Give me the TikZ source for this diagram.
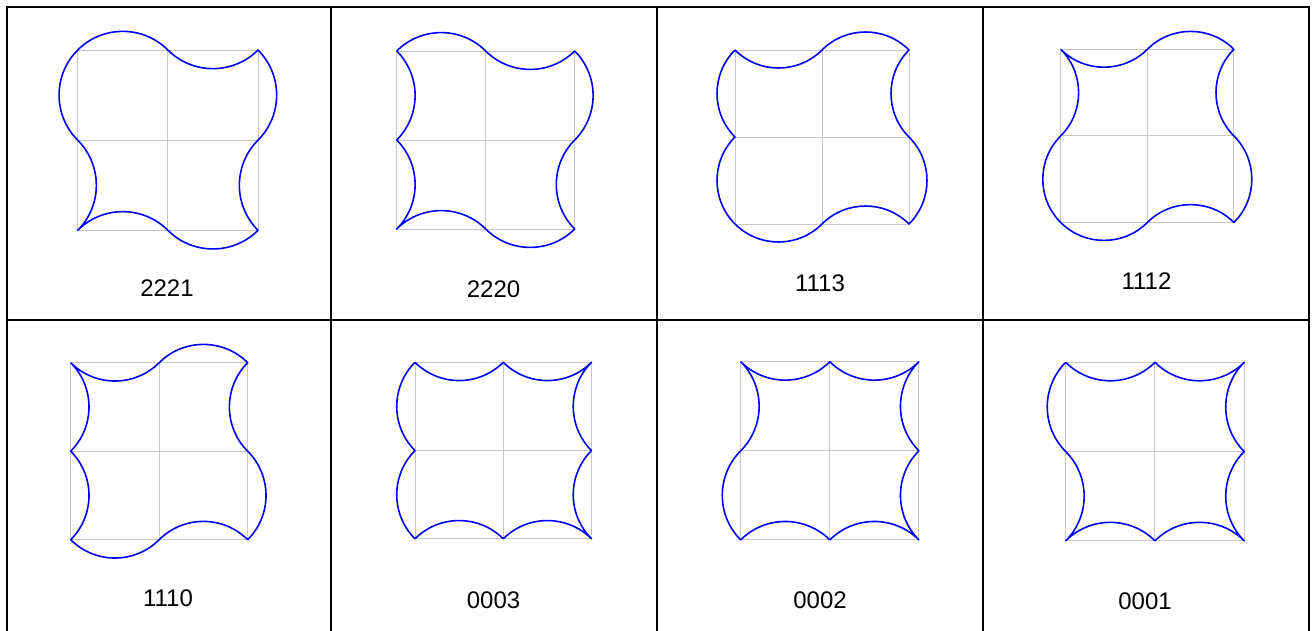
\documentclass[tikz,border=0pt]{standalone}
\usepackage{fontspec}
\setmainfont{Liberation Sans}
\tikzset{
  gridline/.style={draw=black!22, line width=1pt},
  outline/.style={draw=blue, line width=1.6pt, line join=round},
  tableline/.style={draw=black, line width=2.2pt},
  lbl/.style={anchor=base, inner sep=0pt, font=\fontsize{24}{28}\selectfont},
  h0a/.style={bend right=45}, h0b/.style={bend right=45},
  h1a/.style={bend right=45}, h1b/.style={bend left=45},
  h2a/.style={bend left=45},  h2b/.style={bend right=45},
  h3a/.style={bend left=45},  h3b/.style={bend left=45},
}
% #1 name, #2 left, #3 top, #4 side, #5 top edge, #6 right, #7 bottom, #8 left
\newcommand\mytile[8]{%
  \begin{scope}[shift={(#2,#3)}]
    \coordinate (#1-tl) at (0,0);
    \coordinate (#1-tm) at (#4/2,0);
    \coordinate (#1-tr) at (#4,0);
    \coordinate (#1-rm) at (#4,#4/2);
    \coordinate (#1-br) at (#4,#4);
    \coordinate (#1-bm) at (#4/2,#4);
    \coordinate (#1-bl) at (0,#4);
    \coordinate (#1-lm) at (0,#4/2);
    \draw[gridline] (#1-tl) rectangle (#1-br);
    \draw[gridline] (#1-tm) -- (#1-bm);
    \draw[gridline] (#1-lm) -- (#1-rm);
    \draw[outline] (#1-tl) to[h#5a] (#1-tm) to[h#5b] (#1-tr)
      to[h#6a] (#1-rm) to[h#6b] (#1-br)
      to[h#7a] (#1-bm) to[h#7b] (#1-bl)
      to[h#8a] (#1-lm) to[h#8b] (#1-tl);
  \end{scope}}
\begin{document}
\begin{tikzpicture}[x=1pt,y=-1pt]
\useasboundingbox (0,0) rectangle (1313,630);
\begin{scope}
\clip (0,0) rectangle (1313,630);
\draw[tableline] (7,7) rectangle (1309,645);
\draw[tableline] (7,320) -- (1309,320);
\draw[tableline] (331,7) -- (331,645);
\draw[tableline] (657,7) -- (657,645);
\draw[tableline] (983,7) -- (983,645);
\end{scope}
\mytile{a}{77.7}{50}{180.3}{2}{2}{2}{1}
\mytile{b}{396.7}{51}{178}{2}{2}{2}{0}
\mytile{c}{735}{50}{174}{1}{1}{1}{3}
\mytile{d}{1060.7}{49.3}{173.2}{1}{1}{1}{2}
\mytile{e}{70.7}{362.7}{177}{1}{1}{1}{0}
\mytile{f}{415}{362.3}{176.5}{0}{0}{0}{3}
\mytile{g}{740.7}{361.7}{178.2}{0}{0}{0}{2}
\mytile{h}{1065.7}{362.3}{178.5}{0}{0}{0}{1}
\node[lbl] (la) at (167,296) {2221};
\node[lbl] (lb) at (493.5,297.5) {2220};
\node[lbl] (lc) at (820,291.5) {1113};
\node[lbl] (ld) at (1146.5,289) {1112};
\node[lbl] (le) at (168,606) {1110};
\node[lbl] (lf) at (493.5,608) {0003};
\node[lbl] (lg) at (820,608) {0002};
\node[lbl] (lh) at (1145,609) {0001};
\end{tikzpicture}
\end{document}
